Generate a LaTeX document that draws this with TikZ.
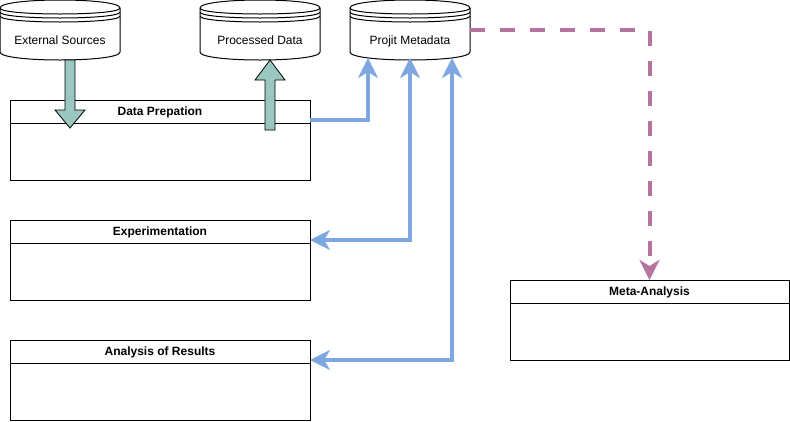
\documentclass[tikz,border=0pt]{standalone}
\usepackage{fontspec}
\setmainfont{Liberation Sans}
\usetikzlibrary{positioning,calc,arrows.meta}
\definecolor{flowblue}{HTML}{7EA6E0}
\definecolor{flowpink}{HTML}{B5739D}
\definecolor{flowteal}{HTML}{9AC7BF}
\tikzset{
  store/.style={draw,fill=white,line width=1pt},
  storetext/.style={minimum width=120pt,minimum height=40pt,inner sep=0pt,outer sep=0pt,text height=8.6pt,text depth=0pt,font=\fontsize{12}{14}\selectfont},
  lanehead/.style={draw,line width=1pt,minimum width=300pt,minimum height=23pt,inner sep=0pt,outer sep=0pt,text height=8.6pt,text depth=0pt,font=\fontsize{12}{14}\selectfont\bfseries},
  lanebody/.style={draw,line width=1pt,minimum width=300pt,minimum height=57pt,inner sep=0pt,outer sep=0pt},
  flow/.style={draw=flowblue,line width=4pt},
  metaflow/.style={draw=flowpink,line width=4pt,dash pattern=on 15pt off 15pt},
  bigarrow/.style={draw,fill=flowteal,line width=0.8pt,line join=miter}
}
\begin{document}
\begin{tikzpicture}[x=1pt,y=-1pt,>={Stealth[length=20pt,width=20pt,inset=6pt]}]
\useasboundingbox (0,0) rectangle (790,421);
\foreach \x/\n/\t in {0/ext/External Sources,200/proc/Processed Data,350/meta/Projit Metadata}{
  \begin{scope}[shift={(\x,0)}]
  \draw[store] (0,8) .. controls (0,-2.67) and (120,-2.67) .. (120,8) -- (120,52) .. controls (120,62.67) and (0,62.67) .. (0,52) -- cycle;
  \foreach \d in {0,4,8}
    \draw[line width=1pt] (0,8+\d) .. controls (0,16+\d) and (120,16+\d) .. (120,8+\d);
  \node[storetext] (\n) at (60,40) {\t};
  \end{scope}
}
\node[lanehead] (prep) at (160,111.5) {Data Prepation};
\node[lanebody,below=0pt of prep] (prepbody) {};
\node[lanehead] (exp) at (160,231.5) {Experimentation};
\node[lanebody,below=0pt of exp] (expbody) {};
\node[lanehead] (res) at (160,351.5) {Analysis of Results};
\node[lanebody,below=0pt of res] (resbody) {};
\node[lanehead,minimum width=279pt] (metaan) at (649.5,291.5) {Meta-Analysis};
\node[lanebody,minimum width=279pt,below=0pt of metaan] (metaanbody) {};
\draw[bigarrow] ($(ext.south)+(5,0)$) -- ++(10,0) -- ++(0,50) -- ++(10,0) -- ++(-15,18) -- ++(-15,-18) -- ++(10,0) -- cycle;
\draw[bigarrow] ($(proc.south)+(10,0)$) -- ++(15,20) -- ++(-10,0) -- ++(0,50) -- ++(-10,0) -- ++(0,-50) -- ++(-10,0) -- cycle;
\draw[flow,->] ($(prep.east)+(0,8.5)$) -| ($(meta.south)+(-42,-2)$);
\draw[flow,<->] ($(meta.south)+(0,-2)$) |- ($(exp.east)+(0,8.5)$);
\draw[flow,<->] ($(meta.south)+(42,-2)$) |- ($(res.east)+(0,8.5)$);
\draw[metaflow,->] ($(meta.east)+(0,-10)$) -| (metaan.north);
\end{tikzpicture}
\end{document}
